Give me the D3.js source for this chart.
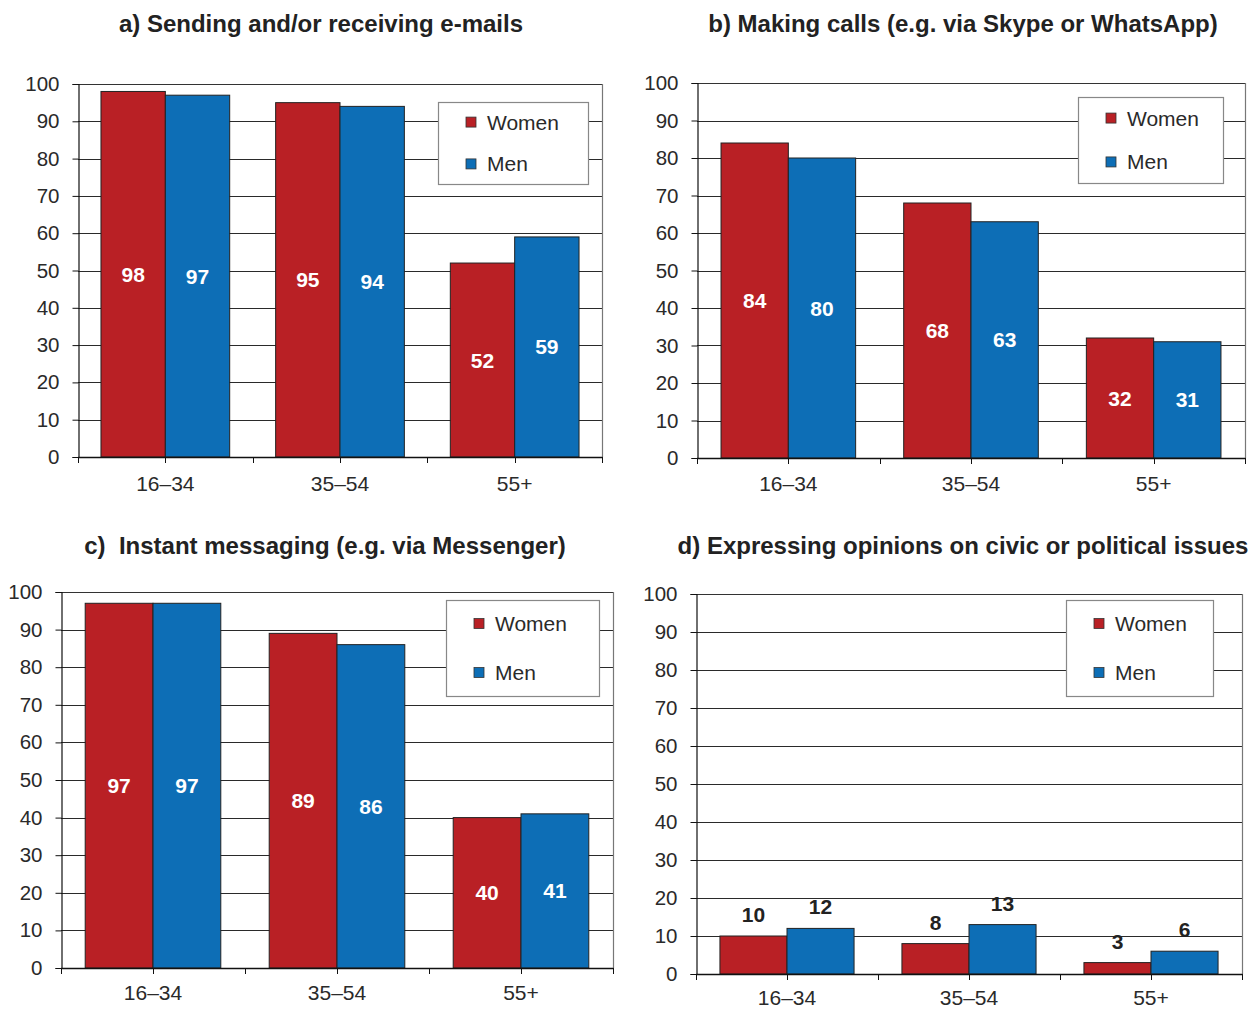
<!DOCTYPE html>
<html>
<head>
<meta charset="utf-8">
<script src="https://cdn.jsdelivr.net/npm/d3@7"></script>
<style>
  html, body { margin: 0; padding: 0; background: #fff; }
  svg { display: block; }
  .title { white-space: pre; }
</style>
</head>
<body>
<svg id="chart" width="1260" height="1010"></svg>
<script>
// ---------- DATA ----------
const categories = ["16–34", "35–54", "55+"];
const seriesNames = ["Women", "Men"];
const yTicks = [0, 10, 20, 30, 40, 50, 60, 70, 80, 90, 100];
const titles = [
  "a) Sending and/or receiving e-mails",
  "b) Making calls (e.g. via Skype or WhatsApp)",
  "c)  Instant messaging (e.g. via Messenger)",
  "d) Expressing opinions on civic or political issues"
];
const womenA = [98, 95, 52];
const menA   = [97, 94, 59];
const womenB = [84, 68, 32];
const menB   = [80, 63, 31];
const womenC = [97, 89, 40];
const menC   = [97, 86, 41];
const womenD = [10, 8, 3];
const menD   = [12, 13, 6];

// ---------- LAYOUT ----------
const colors = { Women: "#B92025", Men: "#0D6EB6" };
const panels = [
  { title: titles[0], women: womenA, men: menA, L: 78,  T: 84,  R: 602,  B: 457, titleX: 321, titleY: 32,  labelsInside: true,  catDy: 34,
    legend: { x: 438, y: 102, w: 150, h: 82 } },
  { title: titles[1], women: womenB, men: menB, L: 697, T: 83,  R: 1245, B: 458, titleX: 963, titleY: 32,  labelsInside: true,  catDy: 33,
    legend: { x: 1078, y: 97, w: 145, h: 86 } },
  { title: titles[2], women: womenC, men: menC, L: 61,  T: 592, R: 613,  B: 968, titleX: 325, titleY: 554, labelsInside: true,  catDy: 32,
    legend: { x: 446, y: 600, w: 153, h: 96 } },
  { title: titles[3], women: womenD, men: menD, L: 696, T: 594, R: 1242, B: 974, titleX: 963, titleY: 554, labelsInside: false, catDy: 31,
    legend: { x: 1066, y: 600, w: 147, h: 96 } }
];

const svg = d3.select("#chart");
const textFont = "'Liberation Sans', Arial, Helvetica, sans-serif";

panels.forEach(p => {
  const g = svg.append("g");

  const x = d3.scaleBand().domain(categories).range([p.L, p.R]).paddingInner(0).paddingOuter(0);
  const inner = d3.scaleBand().domain(seriesNames).range([0, x.bandwidth()]).paddingInner(0).paddingOuter(0.357);
  const y = d3.scaleLinear().domain([0, 100]).range([p.B, p.T]);

  // Title
  g.append("text")
    .attr("class", "title")
    .attr("xml:space", "preserve")
    .attr("x", p.titleX).attr("y", p.titleY)
    .attr("text-anchor", "middle")
    .attr("font-family", textFont)
    .attr("font-weight", "bold")
    .attr("font-size", 24)
    .attr("fill", "#222")
    .text(p.title);

  // Gridlines
  g.append("g").selectAll("line").data(yTicks.filter(d => d > 0 && d < 100)).join("line")
    .attr("x1", p.L).attr("x2", p.R)
    .attr("y1", d => Math.round(y(d)) + 0.5).attr("y2", d => Math.round(y(d)) + 0.5)
    .attr("stroke", "#2a2a2a").attr("stroke-width", 1);

  // Frame top & right
  g.append("line").attr("x1", p.L).attr("x2", p.R + 0.5)
    .attr("y1", p.T + 0.5).attr("y2", p.T + 0.5).attr("stroke", "#333").attr("stroke-width", 1.2);
  g.append("line").attr("x1", p.R + 0.5).attr("x2", p.R + 0.5)
    .attr("y1", p.T).attr("y2", p.B).attr("stroke", "#777").attr("stroke-width", 1.2);

  // Y axis
  const yAxis = d3.axisLeft(y).tickValues(yTicks).tickSize(6).tickPadding(13).tickFormat(d3.format("d"));
  const ya = g.append("g").attr("transform", `translate(${p.L + 0.5},0)`).call(yAxis);
  ya.select(".domain").attr("stroke", "#111").attr("stroke-width", 1.2);
  ya.selectAll(".tick line").attr("stroke", "#111");
  ya.selectAll(".tick text")
    .attr("font-family", textFont).attr("font-size", 20.5).attr("fill", "#2a2a2a");

  // Legend
  const lg = g.append("g");
  lg.append("rect").attr("x", p.legend.x + 0.5).attr("y", p.legend.y + 0.5)
    .attr("width", p.legend.w).attr("height", p.legend.h)
    .attr("fill", "#fff").attr("stroke", "#888").attr("stroke-width", 1.2);
  const rowY = [p.legend.y + p.legend.h * 0.245, p.legend.y + p.legend.h * 0.755];
  seriesNames.forEach((s, i) => {
    lg.append("rect").attr("x", p.legend.x + 28).attr("y", rowY[i] - 5)
      .attr("width", 10).attr("height", 10)
      .attr("fill", colors[s]).attr("stroke", "#333").attr("stroke-width", 0.8);
    lg.append("text").attr("x", p.legend.x + 49).attr("y", rowY[i] + 7.5)
      .attr("font-family", textFont).attr("font-size", 21).attr("fill", "#2a2a2a")
      .text(s);
  });

  // Bars
  const rows = categories.map((c, i) => ({ cat: c, Women: p.women[i], Men: p.men[i] }));
  const groups = g.append("g").selectAll("g").data(rows).join("g")
    .attr("transform", d => `translate(${x(d.cat)},0)`);
  groups.selectAll("rect").data(d => seriesNames.map(s => ({ s, v: d[s] }))).join("rect")
    .attr("x", d => inner(d.s))
    .attr("y", d => y(d.v))
    .attr("width", inner.bandwidth())
    .attr("height", d => y(0) - y(d.v))
    .attr("fill", d => colors[d.s])
    .attr("stroke", "#222").attr("stroke-width", 1);

  // Value labels
  groups.selectAll("text").data(d => seriesNames.map(s => ({ s, v: d[s] }))).join("text")
    .attr("x", d => inner(d.s) + inner.bandwidth() / 2)
    .attr("y", d => p.labelsInside ? (y(d.v) + y(0)) / 2 + 7.5 : y(d.v) - 14)
    .attr("text-anchor", "middle")
    .attr("font-family", textFont)
    .attr("font-weight", "bold")
    .attr("font-size", 21)
    .attr("fill", p.labelsInside ? "#fff" : "#222")
    .text(d => d.v);

  // X axis: baseline, ticks at band edges and centers
  g.append("line").attr("x1", p.L).attr("x2", p.R + 0.5)
    .attr("y1", p.B + 0.5).attr("y2", p.B + 0.5).attr("stroke", "#111").attr("stroke-width", 1.4);
  const tickXs = [];
  categories.forEach(c => { tickXs.push(x(c)); tickXs.push(x(c) + x.bandwidth() / 2); });
  tickXs.push(p.R);
  g.append("g").selectAll("line").data(tickXs).join("line")
    .attr("x1", d => Math.round(d) + 0.5).attr("x2", d => Math.round(d) + 0.5)
    .attr("y1", p.B).attr("y2", p.B + 6)
    .attr("stroke", "#111").attr("stroke-width", 1);
  g.append("g").selectAll("text").data(categories).join("text")
    .attr("x", d => x(d) + x.bandwidth() / 2)
    .attr("y", p.B + p.catDy)
    .attr("text-anchor", "middle")
    .attr("font-family", textFont).attr("font-size", 21).attr("fill", "#2a2a2a")
    .text(d => d);
});
</script>
</body>
</html>
